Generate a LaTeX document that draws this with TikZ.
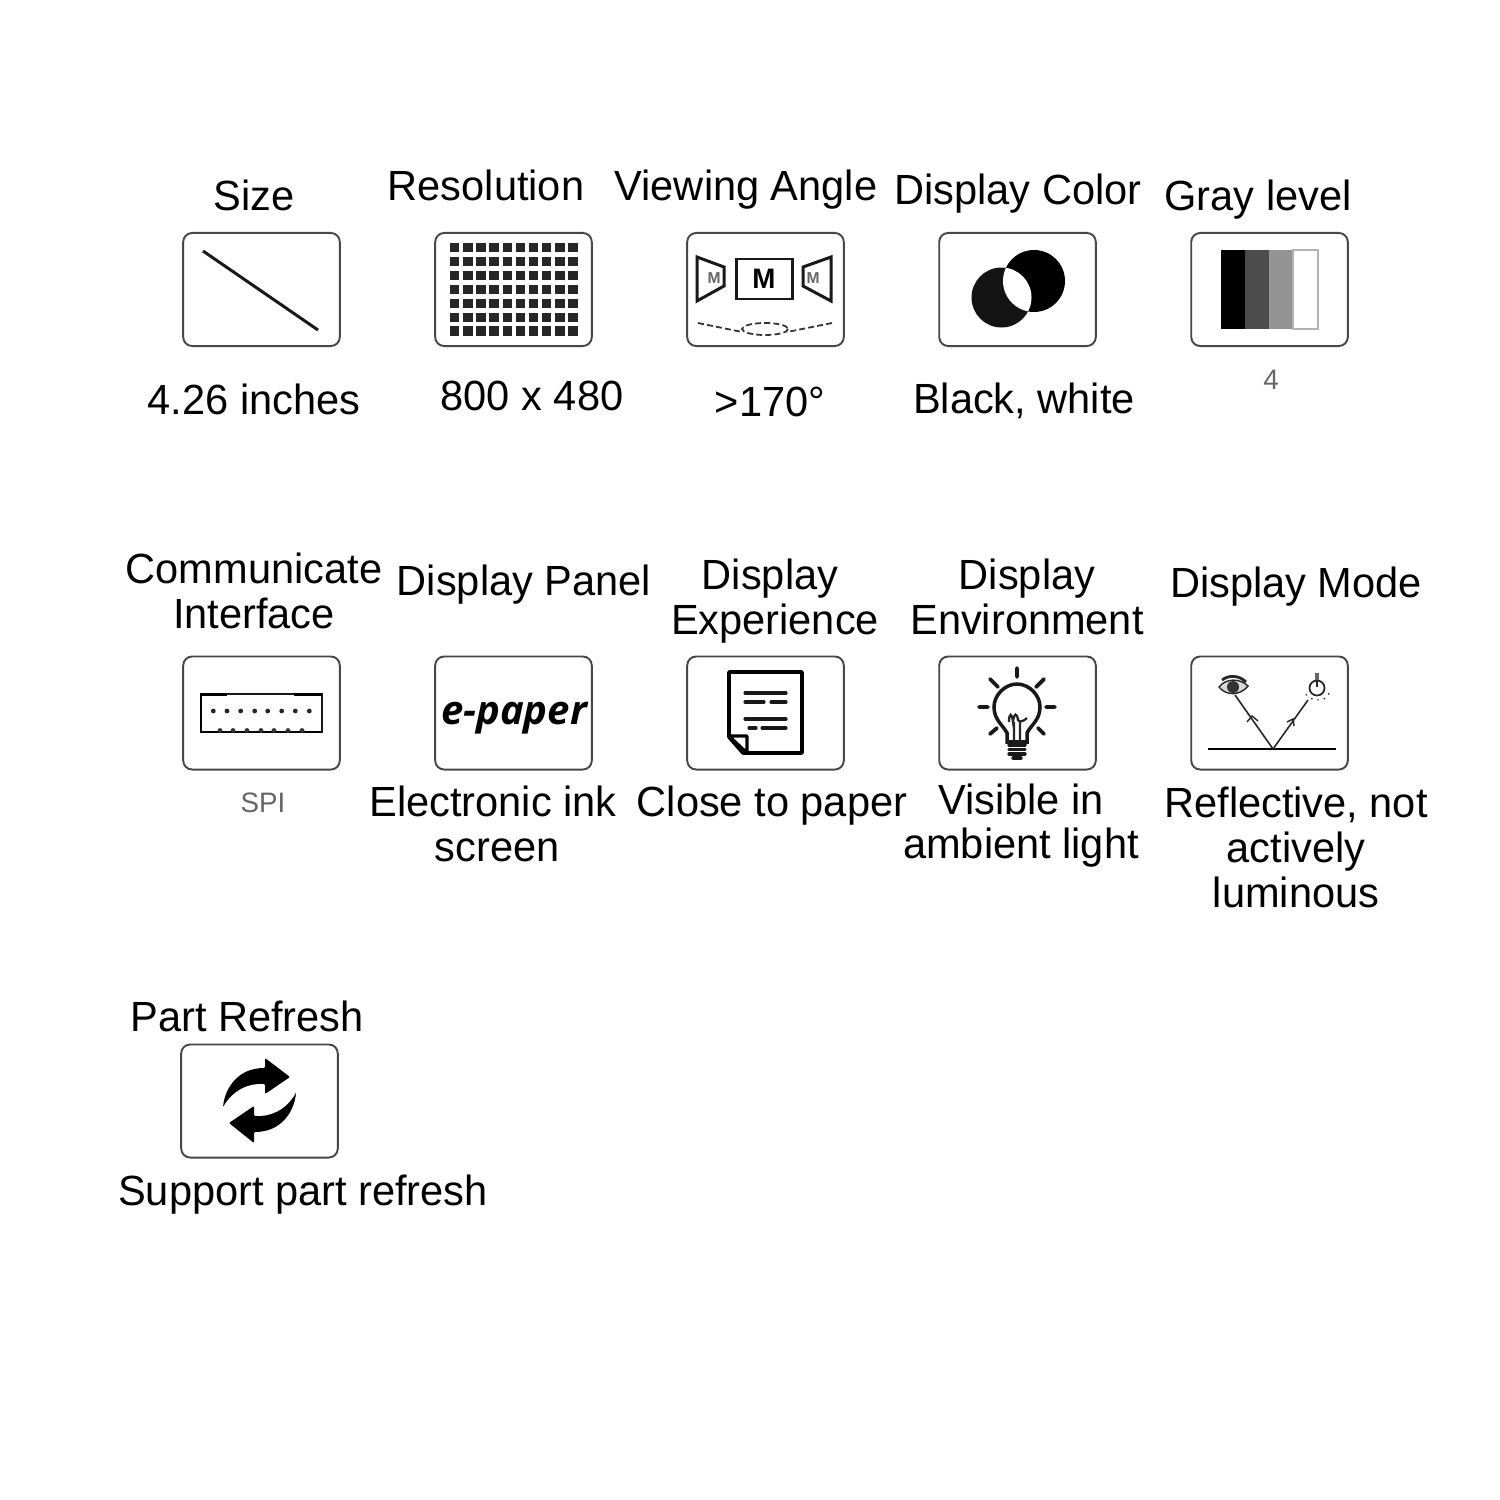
\documentclass[tikz,border=0pt]{standalone}
\usepackage{fontspec}
\setmainfont[FakeStretch=0.985]{Liberation Sans}
\newfontfamily\paperfont{Open Sans}
\tikzset{
  card/.style={draw=black!72,line width=0.55pt,rounded corners=0.09cm,minimum width=1.565cm,minimum height=1.13cm,inner sep=0pt,outer sep=0pt},
  lbl/.style={font=\fontsize{12}{13}\selectfont,text=black,anchor=base,inner sep=0pt},
  val/.style={font=\fontsize{8}{9}\selectfont,text=black!60,anchor=base,inner sep=0pt},
  icon/.style={line width=0.85pt,black!90},
  thinicon/.style={line width=0.4pt,black!85},
  thickicon/.style={line width=1.1pt,black!90,line cap=round},
}
\begin{document}
\begin{tikzpicture}[x=0.01cm,y=-0.01cm]
\useasboundingbox (0,0) rectangle (1500,1500);
\fill[white] (0,0) rectangle (1500,1500);

% cards
\foreach \cx/\cy/\cname in {261.5/289.5/size,513.5/289.5/res,765.5/289.5/angle,1017.5/289.5/color,1269.5/289.5/gray,
  261.5/713/iface,513.5/713/panel,765.5/713/exper,1017.5/713/envir,1269.5/713/mode,259.5/1101/part}
  \node[card] (card-\cname) at (\cx,\cy) {};

% first row
\node[lbl] (sizetop) at (254,210) {Size};
\node[lbl] (restop) at (486,201) {Resolution};
\node[lbl] (angletop) at (746,201) {Viewing Angle};
\node[lbl] (colortop) at (1018,205) {Display Color};
\node[lbl] (graytop) at (1258,210) {Gray level};
\node[lbl] (sizeval) at (254,414) {4.26 inches};
\node[lbl] (resval) at (532,410) {800 x 480};
\node[lbl] (angleval) at (770,416) {>170°};
\node[lbl] (colorval) at (1024,413) {Black, white};
\node[val] (grayval) at (1271,389) {4};

% second row
\node[lbl] (ifacetop) at (254,583) {Communicate};
\node[lbl] (ifacetopb) at (254,628) {Interface};
\node[lbl] (paneltop) at (524,595) {Display Panel};
\node[lbl] (expertop) at (770,589) {Display};
\node[lbl] (expertopb) at (775,634) {Experience};
\node[lbl] (envirtop) at (1027,589) {Display};
\node[lbl] (envirtopb) at (1027,634) {Environment};
\node[lbl] (modetop) at (1296,597) {Display Mode};
\node[val] (ifaceval) at (263,812) {SPI};
\node[lbl] (panelval) at (493,816) {Electronic ink};
\node[lbl] (panelvalb) at (497,861) {screen};
\node[lbl] (experval) at (772,816) {Close to paper};
\node[lbl] (envirval) at (1021,814) {Visible in};
\node[lbl] (envirvalb) at (1021,858) {ambient light};
\node[lbl] (modeval) at (1296,817) {Reflective, not};
\node[lbl] (modevalb) at (1296,862) {actively};
\node[lbl] (modevalc) at (1296,907) {luminous};

% third row
\node[lbl] (parttop) at (247,1031) {Part Refresh};
\node[lbl] (partval) at (303,1205) {Support part refresh};

% size
\draw[line width=0.85pt,black!90] (203,251) -- (318,330);

% resolution
\foreach \i in {0,...,9}
  \foreach \j in {0,...,6}
    \fill[black!85] ({450+13.15*\i},{243+13.9*\j}) rectangle +(9.4,9.4);

% viewing angle
\draw[icon] (697,257) -- (724,267) -- (724,286) -- (697,301) -- cycle;
\draw[icon] (736,259) rectangle (792,299);
\draw[icon] (831,257) -- (803,267) -- (803,286) -- (831,301) -- cycle;
\node[font=\bfseries\fontsize{8}{9}\selectfont,inner sep=0pt] (angleM) at (764,279) {M};
\node[font=\bfseries\fontsize{4.5}{5}\selectfont,text=black!60,inner sep=0pt] (angleL) at (714,278) {M};
\node[font=\bfseries\fontsize{4.5}{5}\selectfont,text=black!60,inner sep=0pt] (angleR) at (813,278) {M};
\draw[black!80,dash pattern=on 1.7pt off 0.9pt,line width=0.5pt] (698,323) -- (742,332);
\draw[black!80,dash pattern=on 1.7pt off 0.9pt,line width=0.5pt] (832,323) -- (787,332);
\draw[black!80,dash pattern=on 1.7pt off 0.9pt,line width=0.5pt] (765,329) ellipse (23 and 6);

% display color
\fill[black!92] (1001.5,297.5) circle (30);
\fill[black] (1034,281) circle (31);
\begin{scope}
\clip (1001.5,297.5) circle (30);
\fill[white] (1034,281) circle (31);
\end{scope}

% gray level
\fill[black] (1221,250) rectangle (1245,329);
\fill[black!70] (1245,250) rectangle (1269,329);
\fill[black!42] (1269,250) rectangle (1293,329);
\draw[black!30,line width=0.45pt] (1293,250) rectangle (1318,329);

% interface
\draw[line width=0.5pt,black!90] (201,694) rectangle (322,732);
\draw[line width=1pt,black] (201,694.5) -- (227,694.5) (294,694.5) -- (322,694.5);
\draw[line width=0.75pt,black] (201,694) -- (201,732) -- (322,732);
\foreach \px in {213.3,227,240.7,254.7,267.7,281.7,295.3,309.3}
  \fill[black!85] (\px,711) circle (2.4);
\foreach \px in {220,233,247,261,274,288,302}
  \fill[black!80] (\px,730.5) circle (2.4);

% e-paper
\node[font=\paperfont\bfseries\itshape\fontsize{11.4}{12}\selectfont,inner sep=0pt] (paperlogo) at (514,718) {e-paper};

% close to paper
\draw[line width=1.05pt,black,line join=round] (729,672) -- (802,672) -- (802,753) -- (743,753) -- (729,737) -- cycle;
\draw[line width=0.9pt,black,line join=round] (729,736) -- (747,736) -- (747,753) -- cycle;
\draw[line width=0.9pt,black!90,line cap=round] (745,693) -- (786,693) (745,702) -- (764,702) (771,702) -- (786,702)
  (745,719) -- (786,719) (749,728) -- (756,728) (762,728) -- (786,728);

% bulb
\draw[thickicon] (1017,668) -- (1017,677) (979,707) -- (988,707) (1046,707) -- (1055,707)
  (990,679) -- (998,687) (1044,679) -- (1036,687) (990,734) -- (997,728) (1044,734) -- (1038,728);
\draw[icon,line width=1pt] (1007,742) -- (1007,733) .. controls (1003,725) and (994,720) .. (994,707)
  .. controls (994,695) and (1005,684) .. (1017,684) .. controls (1029,684) and (1040,695) .. (1040,707)
  .. controls (1040,720) and (1031,725) .. (1027,733) -- (1027,742) -- cycle;
\draw[thinicon,line width=0.65pt] (1014,742) -- (1014,722) (1020,742) -- (1020,722)
  (1009,722) .. controls (1009,712) and (1012,713) .. (1013,722) .. controls (1014,712) and (1017,713) .. (1018,720) .. controls (1019,722) and (1023,722) .. (1027,718);
\draw[line width=0.95pt,black!90,line cap=round] (1009,745) -- (1025,745) (1009,749.5) -- (1025,749.5) (1009,754) -- (1025,754) (1013,758) -- (1021,758);

% display mode
\draw[line width=0.75pt,black] (1208,749) -- (1336,749);
\draw[line width=0.45pt,black!85] (1235,695) -- (1273,749) -- (1308,700);
\draw[thinicon] (1247,722) -- (1252,716) -- (1258,721);
\draw[thinicon] (1287,722) -- (1293,719) -- (1294,726);
\draw[thinicon,fill=black!15] (1219,687) .. controls (1226,678) and (1240,678) .. (1248,686) .. controls (1240,696) and (1226,696) .. (1219,687) -- cycle;
\fill[black!80] (1233,687) circle (6);
\draw[thinicon,line width=0.8pt] (1222,680) .. controls (1230,674) and (1240,676) .. (1246,682);
\draw[thinicon,line width=0.5pt] (1317,688) circle (7.5);
\fill[black!60] (1315,673) rectangle (1319,680);
\draw[thinicon] (1317,681) -- (1317,687);
\draw[thinicon,dotted] (1307,695) -- (1304,694) (1312,698) -- (1311,701) (1318,699) -- (1318,702) (1324,698) -- (1326,701) (1328,694) -- (1331,693);

% refresh
\fill[black,rounded corners=0.3pt] (223,1107) .. controls (225,1088) and (238,1068) .. (265,1068)
  -- (265,1058) -- (290,1077) -- (265,1094) -- (265,1084) .. controls (248,1083) and (233,1090) .. cycle;
\fill[black,rounded corners=0.3pt] (296,1093) .. controls (294,1112) and (281,1132) .. (254,1132)
  -- (254,1143) -- (229,1123) -- (254,1106) -- (254,1116) .. controls (271,1117) and (286,1110) .. cycle;
\end{tikzpicture}
\end{document}
